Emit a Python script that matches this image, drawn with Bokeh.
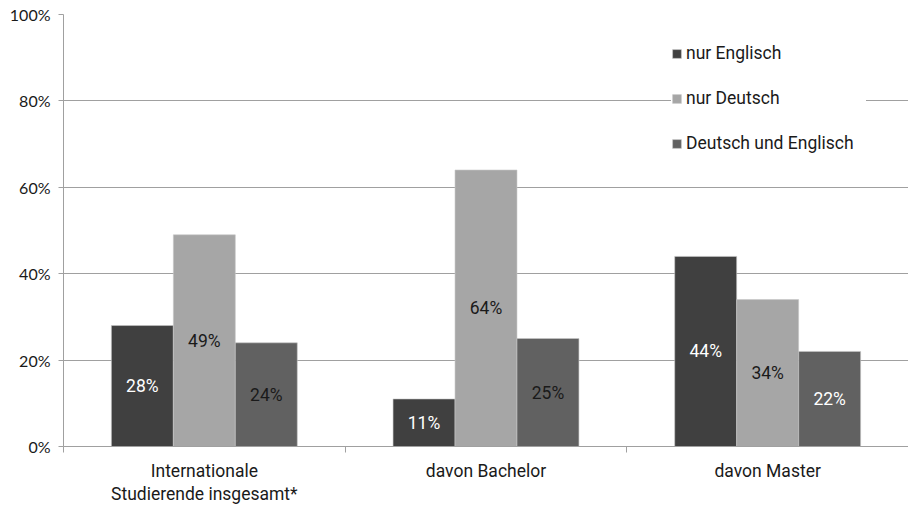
from bokeh.plotting import figure
from bokeh.models import (ColumnDataSource, FixedTicker, Range1d, Legend, LegendItem,
                          NumeralTickFormatter)
from bokeh.core.properties import value
from bokeh.embed import file_html
from bokeh.resources import INLINE

# Data
categories = ["Internationale\nStudierende insgesamt*", "davon Bachelor", "davon Master"]
series = ["nur Englisch", "nur Deutsch", "Deutsch und Englisch"]
nur_englisch = [28, 11, 44]
nur_deutsch = [49, 64, 34]
deutsch_und_englisch = [24, 25, 22]
y_ticks = [0, 20, 40, 60, 80, 100]

# Styling
colors = ["#404040", "#a6a6a6", "#616161"]
label_colors = [
    ["white", "white", "white"],
    ["#1a1a1a", "#1a1a1a", "#1a1a1a"],
    ["#1a1a1a", "#1a1a1a", "white"],
]
offsets = [-0.22, 0.0, 0.22]
bar_width = 0.22
font = "Roboto"
fsize = "17.5px"

p = figure(width=908, height=506, output_backend="svg", toolbar_location=None,
           x_range=Range1d(0, 3), y_range=Range1d(0, 100),
           min_border_left=63, min_border_right=0, min_border_top=14,
           min_border_bottom=60)
p.outline_line_color = None
p.background_fill_color = "white"

# Axes
p.yaxis.ticker = FixedTicker(ticks=y_ticks, minor_ticks=[])
p.yaxis.formatter = NumeralTickFormatter(format="0")
p.yaxis.major_label_overrides = {t: f"{t}%" for t in y_ticks}
p.yaxis.major_label_text_font = "Lato"
p.yaxis.major_label_text_font_size = "16px"
p.yaxis.major_label_text_color = "#1a1a1a"
p.yaxis.major_tick_out = 5
p.yaxis.major_tick_in = 0
p.yaxis.major_label_standoff = 8
p.yaxis.axis_line_color = "#a0a0a0"
p.yaxis.major_tick_line_color = "#a0a0a0"

centers = [i + 0.5 for i in range(len(categories))]
p.xaxis.ticker = FixedTicker(ticks=centers, minor_ticks=[0, 1, 2, 3])
p.xaxis.major_label_overrides = {c: lab for c, lab in zip(centers, categories)}
p.xaxis.major_label_text_font = font
p.xaxis.major_label_text_font_size = fsize
p.xaxis.major_label_text_color = "#1a1a1a"
p.xaxis.major_label_text_line_height = 1.15
p.xaxis.major_tick_out = 0
p.xaxis.major_tick_in = 0
p.xaxis.minor_tick_out = 6
p.xaxis.minor_tick_in = 0
p.xaxis.minor_tick_line_color = "#a0a0a0"
p.xaxis.major_label_standoff = 8
p.xaxis.axis_line_color = "#a0a0a0"

p.xgrid.grid_line_color = None
p.ygrid.ticker = FixedTicker(ticks=[20, 40, 60, 80, 100])
p.ygrid.grid_line_color = "#a0a0a0"
p.ygrid.grid_line_width = 1

# Bars and value labels
items = []
for s, (name, vals) in enumerate(zip(series, [nur_englisch, nur_deutsch, deutsch_und_englisch])):
    xs = [c + offsets[s] for c in centers]
    src = ColumnDataSource(dict(x=xs, top=vals, mid=[v / 2 for v in vals],
                                lab=[f"{v}%" for v in vals], tc=label_colors[s]))
    r = p.vbar(x="x", top="top", bottom=0, width=bar_width, source=src,
               fill_color=colors[s], line_color="#c8c8c8", line_width=0.6)
    p.text(x="x", y="mid", text="lab", source=src, text_align="center",
           text_baseline="middle", text_color="tc",
           text_font=value(font), text_font_size=fsize)
    items.append(LegendItem(label=name, renderers=[r]))

legend = Legend(items=items, location=(608, 293), orientation="vertical",
                background_fill_color="white", background_fill_alpha=1.0,
                border_line_color=None, margin=0, padding=15,
                glyph_width=11, glyph_height=11, label_standoff=4,
                label_height=20, label_width=180, spacing=25,
                label_text_font=font, label_text_font_size=fsize,
                label_text_color="#1a1a1a")
p.add_layout(legend)

open("out.html", "w").write(file_html(p, INLINE))
